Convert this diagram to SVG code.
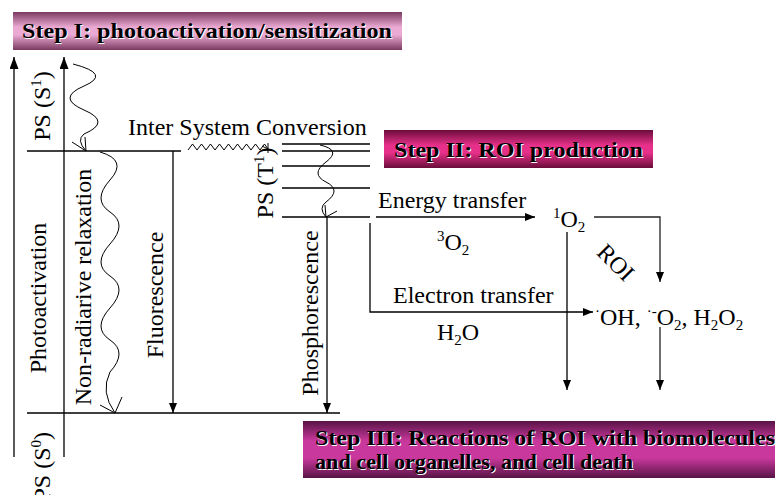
<svg xmlns="http://www.w3.org/2000/svg" width="775" height="495" viewBox="0 0 775 495">
<style>
.t{font-family:"Liberation Serif","Times New Roman",serif;font-size:24px;fill:#000}
.b{font-family:"Liberation Serif","Times New Roman",serif;font-weight:bold;font-size:21px}
.b3{font-family:"Liberation Serif","Times New Roman",serif;font-weight:bold;font-size:21px}
.bs{fill:#fff}
.bf{fill:#000}
.ln{stroke:#000;stroke-width:1.3;fill:none}
.lg{stroke:#222;stroke-width:1.3;fill:none}
.w{stroke:#000;stroke-width:1;fill:none}
</style>
<defs>
<marker id="ah" viewBox="0 0 10 8" refX="10" refY="4" markerWidth="10" markerHeight="8" orient="auto" markerUnits="userSpaceOnUse"><path d="M0,0 L10,4 L0,8 z" fill="#000"/></marker>
<marker id="ax" viewBox="0 0 12 9" refX="12" refY="4.5" markerWidth="12" markerHeight="9" orient="auto" markerUnits="userSpaceOnUse"><path d="M0,0 L12,4.5 L0,9 z" fill="#000"/></marker>
<linearGradient id="g1" x1="0" y1="0" x2="0" y2="1"><stop offset="0" stop-color="#7a3a60"/><stop offset="0.4" stop-color="#eaaad3"/><stop offset="0.6" stop-color="#eaaad3"/><stop offset="1" stop-color="#7a3a60"/></linearGradient>
<linearGradient id="g2" x1="0" y1="0" x2="0" y2="1"><stop offset="0" stop-color="#6a0c3a"/><stop offset="0.4" stop-color="#e6308a"/><stop offset="0.6" stop-color="#e6308a"/><stop offset="1" stop-color="#6a0c3a"/></linearGradient>
<linearGradient id="g3" x1="0" y1="0" x2="0" y2="1"><stop offset="0" stop-color="#581446"/><stop offset="0.35" stop-color="#c9389c"/><stop offset="0.65" stop-color="#c9389c"/><stop offset="1" stop-color="#581446"/></linearGradient>
</defs>

<g id="connectors">
  <path class="ln" d="M14,457 V57" marker-end="url(#ax)"/>
  <path class="ln" d="M64,457 V57" marker-end="url(#ax)"/>
  <path class="ln" d="M27,151 H181"/>
  <path class="ln" d="M27,413 H340"/>
  <path class="ln" d="M282,144 H370 M282,151 H370 M282,166 H370 M282,188 H370 M282,217 H370"/>
  <path class="w" d="M73,64 Q112,74 84,86 T84,110 T84,134 Q76,140 86,151"/>
  <polyline class="w" points="72,142 86,151 85,137"/>
  <path class="w" d="M100,152 Q128,160 110,180 T110,212 T110,244 T110,276 T110,308 T110,340 T110,372 Q100,392 115,413"/>
  <polyline class="w" points="100,405 115,413 122,397"/>
  <path class="ln" d="M173,151 V413" marker-end="url(#ah)"/>
  <path class="w" d="M188,150 L192.5,144 L197,150 L201.5,144 L206,150 L210.5,144 L215,150 L219.5,144 L224,150 L228.5,144 L233,150 L237.5,144 L242,150 L246.5,144 L251,150 L255.5,144 L260,150 L264.5,144 L268,149 M262,146 L268,149 M268,143 V153"/>
  <path class="w" d="M320,145 Q342,150 326,162 T326,182 T326,202 Q318,208 326,217"/>
  <polyline class="w" points="337,211 326,217 325,205"/>
  <path class="ln" d="M327,217 V413" marker-end="url(#ah)"/>
  <path class="ln" d="M376,217 H535" marker-end="url(#ah)"/>
  <path class="ln" d="M370,223 V312 H593" marker-end="url(#ah)"/>
  <path class="lg" d="M594,217 H660 V282" marker-end="url(#ah)"/>
  <path class="ln" d="M567,232 V390" marker-end="url(#ah)"/>
  <path class="lg" d="M660,327 V390" marker-end="url(#ah)"/>
</g>

<g id="step1">
  <rect x="13" y="12" width="389" height="38" fill="url(#g1)"/>
  <text class="b bs" x="23" y="39" textLength="370" lengthAdjust="spacingAndGlyphs">Step I: photoactivation/sensitization</text>
  <text class="b bf" x="22" y="38" textLength="370" lengthAdjust="spacingAndGlyphs">Step I: photoactivation/sensitization</text>
</g>
<g id="step2">
  <rect x="384" y="130" width="269" height="38" fill="url(#g2)"/>
  <text class="b bs" x="395" y="158" textLength="249" lengthAdjust="spacingAndGlyphs">Step II: ROI production</text>
  <text class="b bf" x="394" y="157" textLength="249" lengthAdjust="spacingAndGlyphs">Step II: ROI production</text>
</g>
<g id="step3">
  <rect x="303" y="421" width="472" height="57" fill="url(#g3)"/>
  <text class="b3 bs" x="316" y="446" textLength="460" lengthAdjust="spacingAndGlyphs">Step III: Reactions of ROI with biomolecules</text>
  <text class="b3 bf" x="315" y="445" textLength="460" lengthAdjust="spacingAndGlyphs">Step III: Reactions of ROI with biomolecules</text>
  <text class="b3 bs" x="316" y="470" textLength="318" lengthAdjust="spacingAndGlyphs">and cell organelles, and cell death</text>
  <text class="b3 bf" x="315" y="469" textLength="318" lengthAdjust="spacingAndGlyphs">and cell organelles, and cell death</text>
</g>

<g id="ps-s1"><text class="t" transform="translate(50,106) rotate(-90)" text-anchor="middle">PS (S<tspan font-size="15" dy="-9">1</tspan><tspan dy="9">)</tspan></text></g>
<g id="ps-s0"><text class="t" transform="translate(50,432) rotate(-90)" text-anchor="end">PS (S<tspan font-size="15" dy="-9">0</tspan><tspan dy="9">)</tspan></text></g>
<g id="photoactivation"><text class="t" transform="translate(46,298) rotate(-90)" text-anchor="middle">Photoactivation</text></g>
<g id="nonrad"><text class="t" transform="translate(91,287) rotate(-90)" text-anchor="middle">Non-radiarive relaxation</text></g>
<g id="fluorescence"><text class="t" transform="translate(163,295) rotate(-90)" text-anchor="middle">Fluorescence</text></g>
<g id="isc"><text class="t" x="128" y="135">Inter System Conversion</text></g>
<g id="ps-t1"><text class="t" transform="translate(273,183) rotate(-90)" text-anchor="middle">PS (T<tspan font-size="15" dy="-9">1</tspan><tspan dy="9">)</tspan></text></g>
<g id="phosphorescence"><text class="t" transform="translate(318,313) rotate(-90)" text-anchor="middle">Phosphorescence</text></g>
<g id="energy"><text class="t" x="378" y="208">Energy transfer</text></g>
<g id="o2-3"><text class="t" x="437" y="250"><tspan font-size="15" dy="-9">3</tspan><tspan dy="9">O</tspan><tspan font-size="15" dy="5">2</tspan></text></g>
<g id="o2-1"><text class="t" x="553" y="227"><tspan font-size="15" dy="-9">1</tspan><tspan dy="9">O</tspan><tspan font-size="15" dy="5">2</tspan></text></g>
<g id="roi"><text class="t" transform="translate(610,268) rotate(45)" text-anchor="middle">ROI</text></g>
<g id="electron"><text class="t" x="393" y="303">Electron transfer</text></g>
<g id="h2o"><text class="t" x="437" y="340">H<tspan font-size="15" dy="5">2</tspan><tspan dy="-5">O</tspan></text></g>
<g id="ros"><text class="t" x="595" y="325"><tspan font-size="15" dy="-9">·</tspan><tspan dy="9">OH, </tspan><tspan font-size="15" dy="-9">·-</tspan><tspan dy="9">O</tspan><tspan font-size="15" dy="5">2</tspan><tspan dy="-5">, H</tspan><tspan font-size="15" dy="5">2</tspan><tspan dy="-5">O</tspan><tspan font-size="15" dy="5">2</tspan></text></g>
</svg>
